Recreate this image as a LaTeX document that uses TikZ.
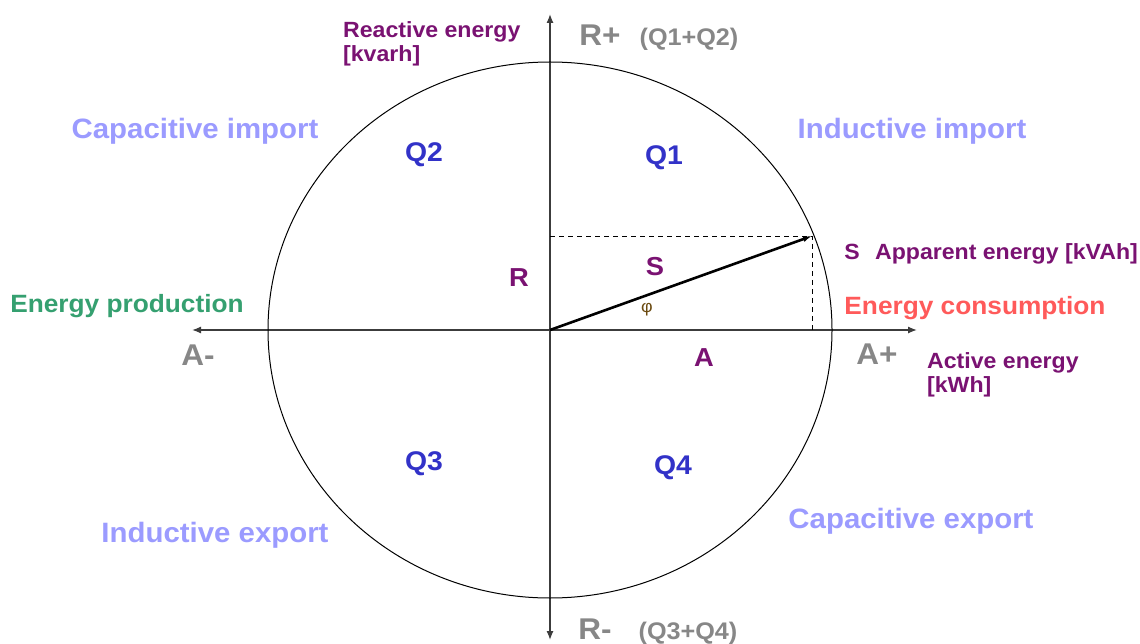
\documentclass[tikz,border=0pt]{standalone}
\usepackage{fontspec}
\setmainfont{Liberation Sans}[FakeStretch=1.05]
\definecolor{axisgray}{HTML}{3C3C3C}
\definecolor{polegray}{HTML}{878787}
\definecolor{plum}{HTML}{7A1272}
\definecolor{quadblue}{HTML}{3232C8}
\definecolor{lavender}{HTML}{9B9BFF}
\definecolor{prodgreen}{HTML}{35A070}
\definecolor{consred}{HTML}{FF5A5A}
\definecolor{phibrown}{HTML}{6B4A10}
\usetikzlibrary{arrows.meta,positioning}

\begin{document}
\begin{tikzpicture}[x=1pt,y=-1pt,
  axis/.style={axisgray,line width=1.3pt,{Latex[length=9pt,width=7pt]}-{Latex[length=9pt,width=7pt]}},
  quad/.style={quadblue,font=\fontsize{27}{30}\selectfont\bfseries},
  mode/.style={lavender,font=\fontsize{28}{30}\selectfont\bfseries},
  pole/.style={polegray,font=\fontsize{30}{32}\selectfont\bfseries},
  qsum/.style={polegray,font=\fontsize{24}{26}\selectfont\bfseries},
  unit/.style={plum,font=\fontsize{22}{24}\selectfont\bfseries,align=left,inner sep=0pt},
  comp/.style={plum,font=\fontsize{26}{28}\selectfont\bfseries}]
  \fill[white] (0,0) rectangle (1140,644);
  \useasboundingbox (0,0) rectangle (1140,644);

  % Axes and circle
  \coordinate (O) at (550,330);
  \coordinate (xbeg) at (192,330);
  \coordinate (xend) at (917,330);
  \coordinate (ytop) at (550,14);
  \coordinate (ybot) at (550,640);
  \draw[axis] (xbeg) -- (xend);
  \draw[axis] (ybot) -- (ytop);
  \draw[line width=1pt] (O) ellipse [x radius=282pt,y radius=268pt];

  % Apparent vector and projections
  \coordinate (Stip) at (812,236);
  \draw[dashed,dash pattern=on 5pt off 4pt,line width=0.9pt] (O |- Stip) -- (Stip) -- (Stip |- O);
  \draw[line width=2.6pt,-{Latex[length=9pt,width=6pt]}] (O) -- (Stip);

  % Quadrants
  \node[quad] (q1) at (664,158) {Q1};
  \node[quad] (q2) at (424,155) {Q2};
  \node[quad] (q3) at (424,464) {Q3};
  \node[quad] (q4) at (673,468) {Q4};
  \node[mode] (capimp) at (195,131) {Capacitive import};
  \node[mode] (indimp) at (912,131) {Inductive import};
  \node[mode] (indexp) at (215,535) {Inductive export};
  \node[mode] (capexp) at (911,521) {Capacitive export};

  % Axis ends
  \node[pole] (rplus) at (600,35) {R+};
  \node[qsum] (q12) at (689,39) {(Q1+Q2)};
  \node[pole] (rminus) at (595,629) {R-};
  \node[qsum] (q34) at (688,633) {(Q3+Q4)};
  \node[pole] (aminus) at (198,355) {A-};
  \node[pole] (aplus) at (877,354) {A+};
  \node[prodgreen,font=\fontsize{25}{28}\selectfont\bfseries] (prod) at (127,306) {Energy production};
  \node[consred,font=\fontsize{25}{28}\selectfont\bfseries] (cons) at (975,308) {Energy consumption};

  % Units
  \node[unit,anchor=north west] (reactive) at (343,21) {Reactive energy\\{[kvarh]}};
  \node[unit,anchor=north west] (active) at (927,352) {Active energy\\{[kWh]}};
  \node[unit] (sname) at (852,252) {S};
  \node[unit,right=15pt of sname.base east,anchor=base west] (apparent) {Apparent energy [kVAh]};

  % Components
  \node[comp] (rlab) at (519,278) {R};
  \node[comp] (slab) at (655,267) {S};
  \node[comp] (alab) at (704,358) {A};
  \node[phibrown,font=\fontsize{17}{20}\selectfont] (phi) at (647,310) {φ};
\end{tikzpicture}
\end{document}
